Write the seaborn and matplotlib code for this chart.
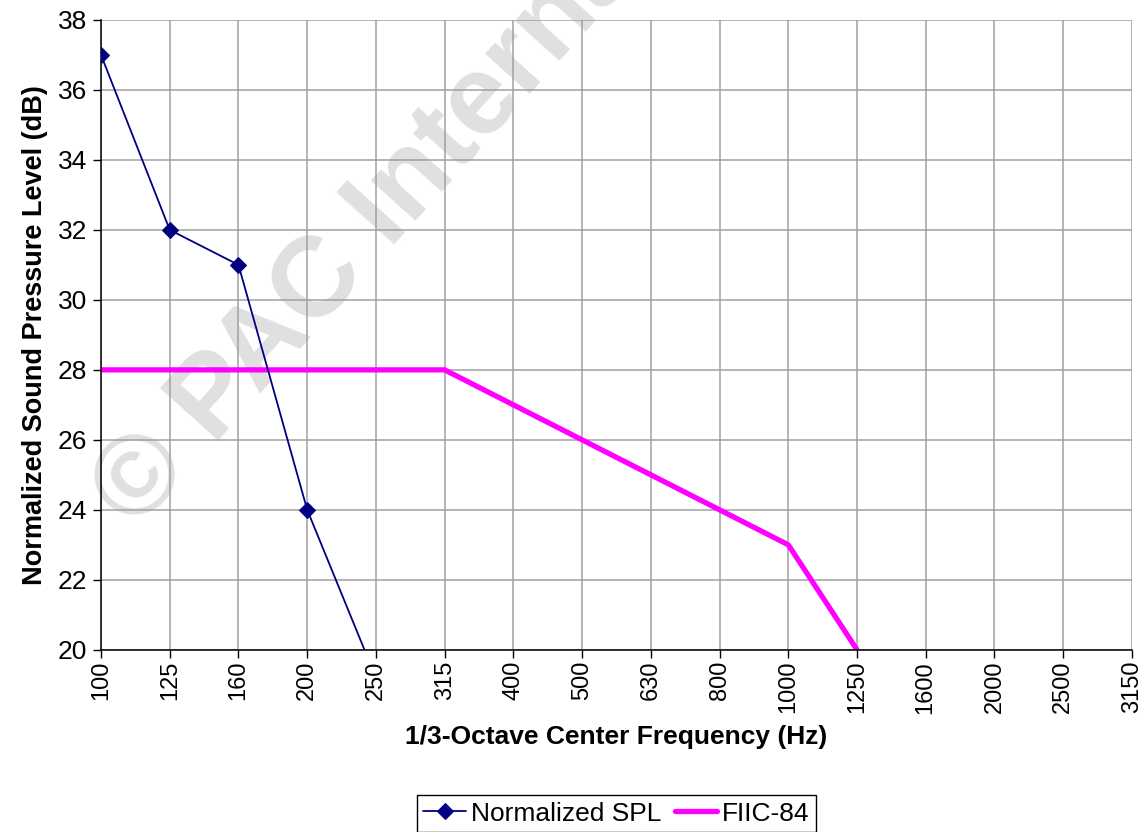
import numpy as np
import pandas as pd
import seaborn as sns
import matplotlib.pyplot as plt

# 1/3-octave bands and the two series
freqs = ['100', '125', '160', '200', '250', '315', '400', '500', '630',
         '800', '1000', '1250', '1600', '2000', '2500', '3150']
spl = [37, 32, 31, 24, 19.2]
fiic = [28, 28, 28, 28, 28, 28, 27, 26, 25, 24, 23, 20]

sns.set_style('white')
plt.rcParams['font.family'] = ['Liberation Sans', 'DejaVu Sans']
plt.rcParams['text.color'] = 'black'
plt.rcParams['axes.labelcolor'] = 'black'
plt.rcParams['xtick.color'] = 'black'
plt.rcParams['ytick.color'] = 'black'

df_spl = pd.DataFrame({'pos': np.arange(len(spl)), 'val': spl})
df_fiic = pd.DataFrame({'pos': np.arange(len(fiic)), 'val': fiic})

fig = plt.figure(figsize=(11.48, 8.32), dpi=100)
ax = fig.add_axes([0.088, 0.219, 0.898, 0.757])
ax.set_facecolor('none')

# watermark sitting behind the plot
fig.text(0.100, 0.385, '\u00a9 PAC International', rotation=48,
         rotation_mode='anchor', ha='left', va='center', fontsize=82,
         fontweight='bold', color='#e0e0e0', zorder=-1)

sns.lineplot(data=df_spl, x='pos', y='val', ax=ax, color='#000080',
             linewidth=1.3, marker='D', markersize=8, markeredgecolor='#000080',
             label='Normalized SPL', zorder=3)
sns.lineplot(data=df_fiic, x='pos', y='val', ax=ax, color='#ff00ff',
             linewidth=3.8, label='FIIC-84', zorder=2)

ax.set_xlim(0, len(freqs) - 1)
ax.set_ylim(20, 38)
ax.set_xticks(np.arange(len(freqs)))
ax.set_xticklabels(freqs, rotation=90, fontsize=17)
ax.set_yticks(np.arange(20, 39, 2))
ax.tick_params(axis='y', labelsize=19, pad=4)
ax.tick_params(axis='x', pad=2)
ax.tick_params(direction='out', length=6, width=1, color='black',
               bottom=True, left=True)

ax.grid(True, color='#a0a0a0', linewidth=1.1)
for s in ['top', 'right']:
    ax.spines[s].set_visible(False)
for s in ['left', 'bottom']:
    ax.spines[s].set_color('black')
    ax.spines[s].set_linewidth(1.1)

ax.set_xlabel('1/3-Octave Center Frequency (Hz)', fontsize=19,
              fontweight='bold', labelpad=8)
ax.set_ylabel('Normalized Sound Pressure Level (dB)', fontsize=19.5,
              fontweight='bold', labelpad=7)

ax.get_legend().remove()
h, l = ax.get_legend_handles_labels()
leg = fig.legend(h, l, loc='center', bbox_to_anchor=(0.537, 0.022), ncol=2,
                 fontsize=19, frameon=True, fancybox=False, framealpha=1,
                 edgecolor='black', handlelength=1.6, handletextpad=0.2,
                 columnspacing=0.5, borderpad=0.25)
leg.get_frame().set_linewidth(1)

fig.savefig('out.png', dpi=100)
